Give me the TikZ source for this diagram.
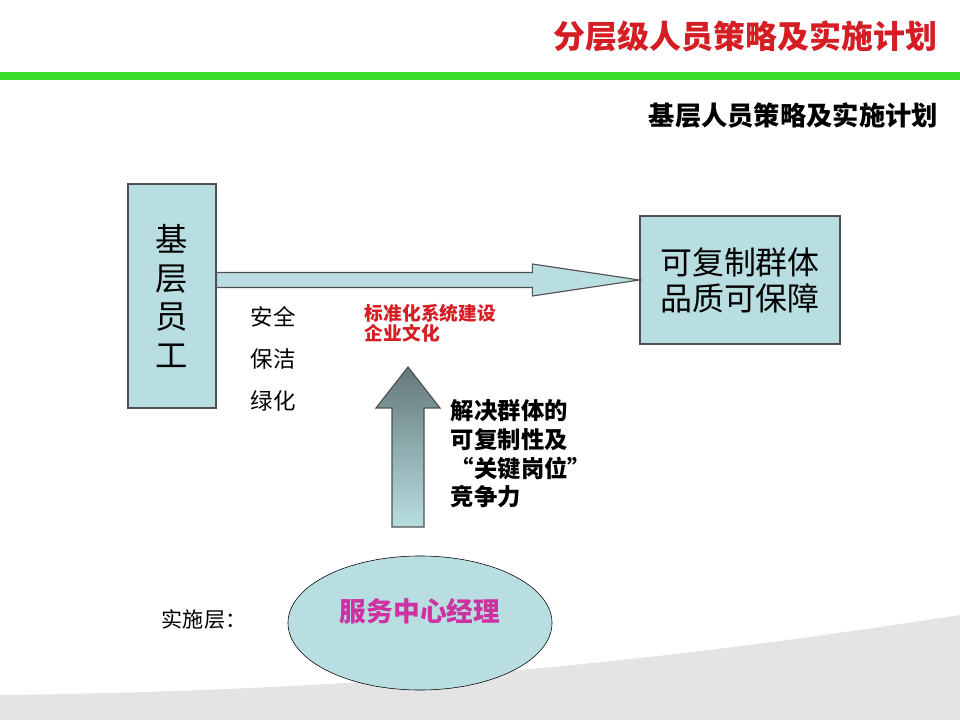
\documentclass[tikz,border=0pt]{standalone}
\usepackage{fontspec}
\setmainfont{Noto Sans CJK SC}
\usetikzlibrary{shapes.geometric,calc}
\definecolor{titlered}{RGB}{212,30,36}
\definecolor{barg}{RGB}{58,222,40}
\definecolor{boxfill}{RGB}{184,222,226}
\definecolor{boxline}{RGB}{80,80,80}
\definecolor{arrowtop}{RGB}{100,120,122}
\definecolor{mgr}{RGB}{204,51,160}
\definecolor{swoosh}{RGB}{228,228,228}
\begin{document}
\begin{tikzpicture}[x=0.025cm, y=-0.025cm,
    box/.style={draw=boxline, fill=boxfill, line width=0.8pt},
    blockarrow/.style={draw=boxline, fill=boxfill, line width=0.8pt, line join=miter},
    bigtext/.style={font=\fontsize{23}{27}\selectfont, align=center},
    smalltext/.style={font=\fontsize{16}{30}\selectfont, align=center}]
    \useasboundingbox (0,0) rectangle (960,720);

    % background
    \fill[swoosh] (0,695) .. controls (420,690) and (700,655) .. (960,615)
        -- (960,720) -- (0,720) -- cycle;
    \fill[barg] (0,72) rectangle (960,80);
    \node[anchor=east, text=titlered, font=\bfseries\fontsize{22.7}{27}\selectfont]
        (title) at (942,36) {分层级人员策略及实施计划};
    \node[anchor=east, font=\bfseries\fontsize{18.7}{22}\selectfont]
        (subtitle) at (943,115) {基层人员策略及实施计划};

    % boxes
    \node[box, bigtext, minimum width=2.2cm, minimum height=5.6cm,
        font=\fontsize{23}{27.5}\selectfont] (staff) at (172,296) {基\\层\\员\\工};
    \node[box, bigtext, minimum width=5cm, minimum height=3.2cm,
        font=\fontsize{22.7}{25.5}\selectfont] (goal) at (740,280) {可复制群体\\品质可保障};

    \draw[blockarrow] ($(staff.east|-goal.west)+(0,-7.5)$) -- ($(goal.west)+(-107,-7.5)$)
        -- ($(goal.west)+(-107,-16)$) -- (goal.west) -- ($(goal.west)+(-107,16)$)
        -- ($(goal.west)+(-107,7.5)$) -- ($(staff.east|-goal.west)+(0,7.5)$) -- cycle;

    \node[smalltext] (duties) at (273,359) {安全\\保洁\\绿化};
    \node[anchor=west, align=left, text=titlered,
        font=\bfseries\fontsize{13.3}{14.3}\selectfont] (culture) at (360,323)
        {标准化系统建设\\企业文化};

    % implementation layer
    \node[draw=black, fill=boxfill, ellipse, minimum width=6.6cm, minimum height=3.35cm,
        label={[text=mgr, font=\bfseries\fontsize{19}{22}\selectfont, yshift=8.5pt]center:服务中心经理}]
        (manager) at (420,623) {};
    \node[font=\fontsize{15}{18}\selectfont] (layer) at (204,620) {实施层：};

    \coordinate (upbase) at (408,527);
    \coordinate (uptip) at (408,367);
    \shade[top color=arrowtop, bottom color=boxfill, draw=boxline, line width=0.8pt]
        ($(upbase)+(-16,0)$) -- ($(uptip)+(-16,41)$) -- ($(uptip)+(-32,41)$) -- (uptip)
        -- ($(uptip)+(32,41)$) -- ($(uptip)+(16,41)$) -- ($(upbase)+(16,0)$) -- cycle;
    \node[anchor=west, align=left, font=\bfseries\fontsize{16.6}{20.3}\selectfont]
        (why) at (446,454) {解决群体的\\可复制性及\\“关键岗位”\\竞争力};
\end{tikzpicture}
\end{document}
